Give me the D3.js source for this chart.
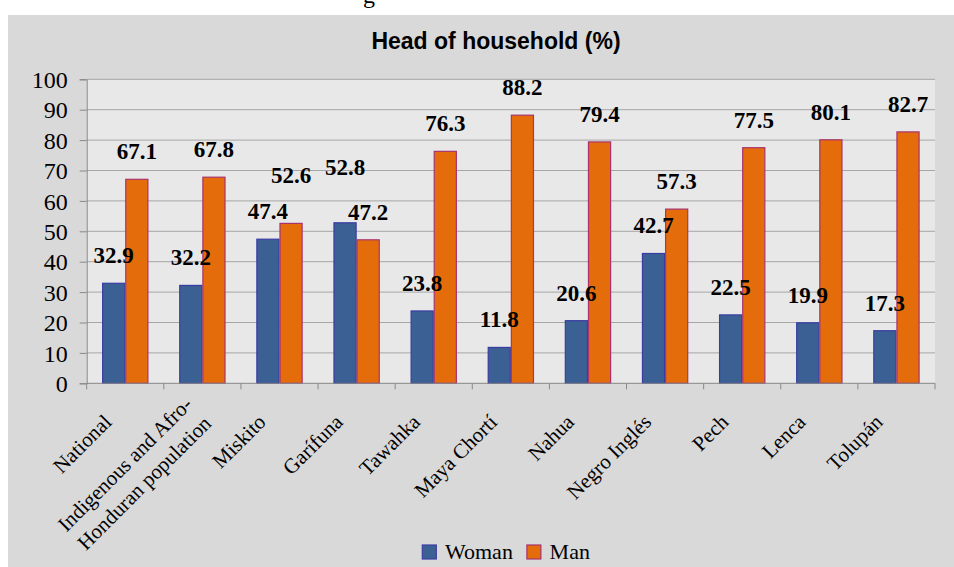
<!DOCTYPE html>
<html>
<head>
<meta charset="utf-8">
<script src="https://cdn.jsdelivr.net/npm/d3@7"></script>
<style>
  html, body { margin: 0; padding: 0; background: #ffffff; }
  svg { display: block; }
</style>
</head>
<body>
<svg id="chart" width="954" height="567"></svg>
<script>
// ---- data ----
const categories = ["National", "Indigenous and Afro-\nHonduran population", "Miskito", "Garífuna", "Tawahka", "Maya Chortí", "Nahua", "Negro Inglés", "Pech", "Lenca", "Tolupán"];
const seriesNames = ["Woman", "Man"];
const woman = [32.9, 32.2, 47.4, 52.8, 23.8, 11.8, 20.6, 42.7, 22.5, 19.9, 17.3];
const man = [67.1, 67.8, 52.6, 47.2, 76.3, 88.2, 79.4, 57.3, 77.5, 80.1, 82.7];
const yTicks = [0, 10, 20, 30, 40, 50, 60, 70, 80, 90, 100];
const titleText = "Head of household (%)";

// ---- layout / style ----
const W = 954, H = 567;
const plot = { left: 86.7, right: 935, top: 79.3, bottom: 383.3 };
const colors = { Woman: "#3a6094", Man: "#e46c0a" };
const strokes = { Woman: "#3b3ca3", Man: "#a8336e" };
const serif = "'Liberation Serif', 'Times New Roman', Times, serif";
const sans = "'Liberation Sans', Arial, Helvetica, sans-serif";
// extra lift (px) for labels that were moved up in the original to avoid overlaps
const labelLift = { "Miskito|Man": 20, "Garífuna|Woman": 28 };

const svg = d3.select("#chart");

// cropped caption fragment at the very top
svg.append("text").attr("x", 369).attr("y", 3)
  .attr("text-anchor", "middle").style("font-family", serif).style("font-size", "24px")
  .attr("fill", "#000").text("g");

// chart area background
svg.append("rect").attr("x", 8).attr("y", 15).attr("width", W - 8).attr("height", H - 15)
  .attr("fill", "#d9d9d9");

// plot area
svg.append("rect").attr("x", plot.left).attr("y", plot.top)
  .attr("width", plot.right - plot.left).attr("height", plot.bottom - plot.top)
  .attr("fill", "#e8e8e8");

const x = d3.scaleBand().domain(categories).range([plot.left, plot.right])
  .paddingInner(0.4).paddingOuter(0.2);
const xs = d3.scaleBand().domain(seriesNames).range([0, x.bandwidth()]).padding(0);
const y = d3.scaleLinear().domain([0, 100]).range([plot.bottom, plot.top]);

// gridlines
svg.append("g").selectAll("line").data(yTicks.filter(t => t > 0)).join("line")
  .attr("x1", plot.left).attr("x2", plot.right)
  .attr("y1", d => y(d)).attr("y2", d => y(d))
  .attr("stroke", "#a6a6a6").attr("stroke-width", 1);

// y axis
const yAxis = svg.append("g").attr("transform", `translate(${plot.left},0)`)
  .call(d3.axisLeft(y).tickValues(yTicks).tickSize(7).tickPadding(12).tickFormat(d3.format("d")));
yAxis.select(".domain").attr("stroke", "#888888");
yAxis.selectAll(".tick line").attr("stroke", "#888888");
yAxis.selectAll(".tick text").style("font-family", serif).style("font-size", "24px")
  .attr("fill", "#000").attr("dy", "0.34em");

// bars
const rows = categories.map((c, i) => ({ cat: c, Woman: woman[i], Man: man[i] }));
const groups = svg.append("g").selectAll("g").data(rows).join("g")
  .attr("transform", d => `translate(${x(d.cat)},0)`);
groups.selectAll("rect").data(d => seriesNames.map(s => ({ cat: d.cat, s, v: d[s] }))).join("rect")
  .attr("x", d => xs(d.s) + 0.5).attr("width", xs.bandwidth() - 1)
  .attr("y", d => y(d.v)).attr("height", d => y(0) - y(d.v))
  .attr("fill", d => colors[d.s]).attr("stroke", d => strokes[d.s]).attr("stroke-width", 1.2);

// data labels
groups.selectAll("text.lbl").data(d => seriesNames.map(s => ({ cat: d.cat, s, v: d[s] }))).join("text")
  .attr("class", "lbl")
  .attr("x", d => xs(d.s) + xs.bandwidth() / 2)
  .attr("y", d => y(d.v) - 20 - (labelLift[d.cat + "|" + d.s] || 0))
  .attr("text-anchor", "middle")
  .style("font-family", serif).style("font-size", "23px").style("font-weight", "bold")
  .attr("fill", "#000").text(d => d.v.toFixed(1));

// x axis line and ticks (at category boundaries)
svg.append("line").attr("x1", plot.left).attr("x2", plot.right)
  .attr("y1", plot.bottom).attr("y2", plot.bottom).attr("stroke", "#888888");
const step = x.step();
const boundaries = d3.range(categories.length + 1).map(i => plot.left + i * step);
svg.append("g").selectAll("line").data(boundaries).join("line")
  .attr("x1", d => d).attr("x2", d => d)
  .attr("y1", plot.bottom).attr("y2", plot.bottom + 6).attr("stroke", "#888888");

// x labels, rotated -45
const lh = 27;
svg.append("g").selectAll("text").data(categories).join("text")
  .each(function (c) {
    const cx = x(c) + x.bandwidth() / 2;
    const lines = c.split("\n");
    const n = lines.length;
    const t = d3.select(this)
      .attr("transform", `translate(${cx - 12.5},${plot.bottom + 40}) rotate(-45)`)
      .attr("text-anchor", "end")
      .style("font-family", serif).style("font-size", "21px").attr("fill", "#000");
    lines.forEach((ln, k) => {
      t.append("tspan")
        .attr("x", n > 1 ? 15 : 0)
        .attr("y", n > 1 ? (k - (n - 1) / 2) * lh + 3.5 : 0)
        .text(ln);
    });
  });

// title
svg.append("text").attr("x", 496).attr("y", 49.3).attr("text-anchor", "middle")
  .style("font-family", sans).style("font-size", "23px").style("font-weight", "bold")
  .attr("fill", "#000").text(titleText);

// legend
const legend = svg.append("g");
let lx = 422.3;
seriesNames.forEach(s => {
  legend.append("rect").attr("x", lx).attr("y", 545).attr("width", 14).attr("height", 14)
    .attr("fill", colors[s]).attr("stroke", strokes[s]).attr("stroke-width", 1.2);
  const tx = legend.append("text").attr("x", lx + 22.7).attr("y", 559)
    .style("font-family", serif).style("font-size", "22px").attr("fill", "#000").text(s);
  lx += 22.7 + tx.node().getComputedTextLength() + 14;
});
</script>
</body>
</html>
